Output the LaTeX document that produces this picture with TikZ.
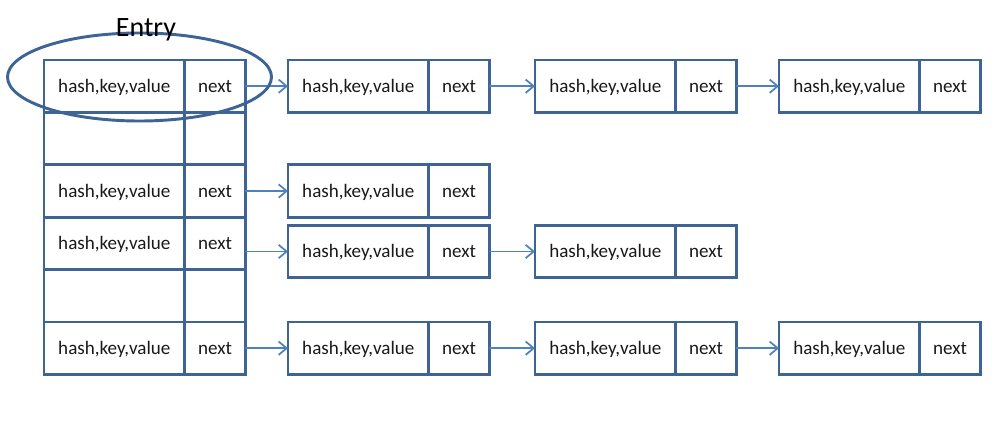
\documentclass[tikz,border=0pt]{standalone}
\usepackage{fontspec}
\setmainfont{Carlito}
\usetikzlibrary{arrows.meta,positioning}

\definecolor{boxblue}{RGB}{62,100,150}
\definecolor{arrowblue}{RGB}{79,129,189}
\newcommand{\hkv}{hash,key,value}

\tikzset{
  cell/.style={draw=boxblue, line width=2.2pt, minimum height=39.3pt, inner sep=0pt,
    outer sep=0pt, text height=2ex, text depth=0pt,
    font=\fontsize{14.3}{16}\selectfont, text=black!90},
  datacell/.style={cell, minimum width=105.5pt},
  nextcell/.style={cell, minimum width=45.5pt},
  link/.style={draw=arrowblue, line width=1.3pt, -{Straight Barb[length=6pt,width=10pt]}}
}

\begin{document}
\begin{tikzpicture}[x=0.75pt,y=-0.75pt]
\useasboundingbox (0,0) rectangle (1003,447);

% table of buckets
\foreach \i/\t/\u in {1/\hkv/next,2//,3/\hkv/next,4/\hkv/next,5//,6/\hkv/next}
{
  \node[datacell, anchor=north west] (a\i) at (44,{60+52.4*(\i-1)}) {\t};
  \node[nextcell, right=0pt of a\i] (n\i) {\u};
}

% entries hanging off the buckets
\foreach \r/\k/\x/\y in {1/1/288/86.2, 1/2/535/86.2, 1/3/779/86.2,
                         3/1/288/191,
                         4/1/288/251.5, 4/2/535/251.5,
                         6/1/288/348.2, 6/2/535/348.2, 6/3/779/348.2}
{
  \node[datacell, anchor=west] (h\r\k) at (\x,\y) {\hkv};
  \node[nextcell, right=0pt of h\r\k] (x\r\k) {next};
}

\foreach \r in {1,3,4,6}
  \draw[link] (n\r.east |- h\r1.west) -- (h\r1.west);
\foreach \r/\k/\j in {1/1/2,1/2/3,4/1/2,6/1/2,6/2/3}
  \draw[link] (x\r\k.east) -- (h\r\j.west);

% the one entry
\draw[boxblue, line width=2.2pt] (139.5,77) ellipse [x radius=132, y radius=44];
\node[font=\fontsize{21}{24}\selectfont] (entry) at (146,30) {Entry};

\end{tikzpicture}
\end{document}
